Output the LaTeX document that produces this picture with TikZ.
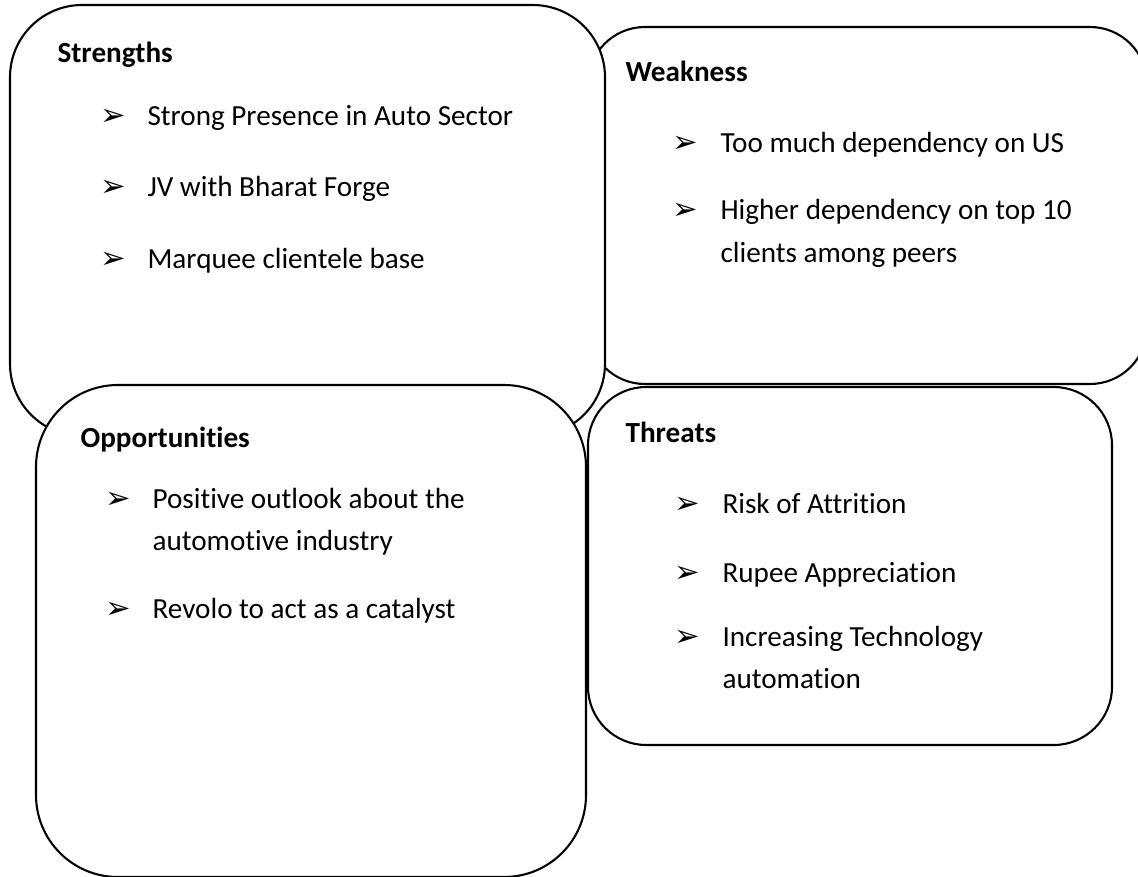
\documentclass[tikz,border=0pt]{standalone}
\usepackage{fontspec}
\setmainfont{Carlito}[Ligatures=NoCommon]
\newfontfamily\dingfont{DejaVu Sans}
\usepackage{tikz}
\usetikzlibrary{positioning}

\begin{document}
\begin{tikzpicture}[x=0.36pt, y=-0.36pt,
    swotbox/.style={draw=black, line width=0.75pt, fill=white},
    heading/.style={anchor=base west, inner sep=0pt, font=\fontsize{10.5}{13}\selectfont\bfseries},
    item/.style={anchor=base west, inner sep=0pt, font=\fontsize{10.5}{13}\selectfont},
    arrowbullet/.style={anchor=base west, inner sep=0pt, font=\dingfont\fontsize{11}{11}\selectfont}]
    \useasboundingbox (0,0) rectangle (1138,877);
    \clip (0,0) rectangle (1138,877);
    % weakness box (sits behind strengths)
    \draw[swotbox, rounded corners=20.5pt] (588,27) rectangle (1147,384);
    % strengths box
    \draw[swotbox, rounded corners=26pt] (10,5) rectangle (605,436);
    % threats box
    \draw[swotbox, rounded corners=21pt] (588,387) rectangle (1112,745);
    % opportunities box (on top of strengths)
    \draw[swotbox, rounded corners=29.5pt] (36,385) rectangle (586,877);

    % strengths
    \node[heading] (strHead) at (57,63) {Strengths};
    \node[arrowbullet] (strB1) at (100,126) {➢};
    \node[item] (str1) at (147,126) {Strong Presence in Auto Sector};
    \node[arrowbullet] (strB2) at (100,197) {➢};
    \node[item] (str2) at (147,197) {JV with Bharat Forge};
    \node[arrowbullet] (strB3) at (100,268) {➢};
    \node[item] (str3) at (147,268) {Marquee clientele base};

    % weakness
    \node[heading] (wkHead) at (625,82) {Weakness};
    \node[arrowbullet] (wkB1) at (672,153) {➢};
    \node[item] (wk1) at (720,153) {Too much dependency on US};
    \node[arrowbullet] (wkB2) at (672,220) {➢};
    \node[item] (wk2) at (720,220) {Higher dependency on top 10};
    \node[item] (wk2b) at (720,262) {clients among peers};

    % opportunities
    \node[heading] (opHead) at (80,447) {Opportunities};
    \node[arrowbullet] (opB1) at (105,508) {➢};
    \node[item] (op1) at (152,508) {Positive outlook about the};
    \node[item] (op1b) at (152,550) {automotive industry};
    \node[arrowbullet] (opB2) at (105,618) {➢};
    \node[item] (op2) at (152,618) {Revolo to act as a catalyst};

    % threats
    \node[heading] (thHead) at (625,442) {Threats};
    \node[arrowbullet] (thB1) at (674,513) {➢};
    \node[item] (th1) at (722,513) {Risk of Attrition};
    \node[arrowbullet] (thB2) at (674,582) {➢};
    \node[item] (th2) at (722,582) {Rupee Appreciation};
    \node[arrowbullet] (thB3) at (674,646) {➢};
    \node[item] (th3) at (722,646) {Increasing Technology};
    \node[item] (th3b) at (722,688) {automation};
\end{tikzpicture}
\end{document}
